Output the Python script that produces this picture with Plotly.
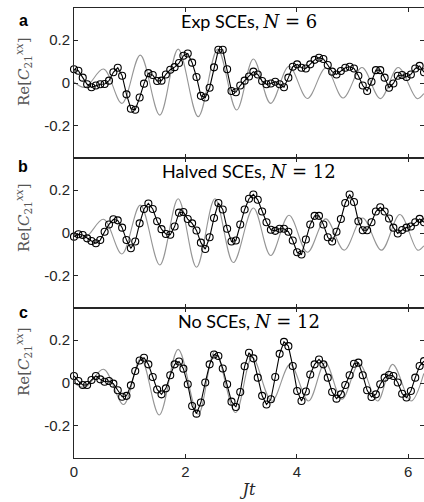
import numpy as np
import plotly.graph_objects as go

# time grid of the measured points (Jt)
t = np.linspace(0, 2 * np.pi, 81)

# panel a: Exp SCEs, N = 6
meas_a = [0.064, 0.057, 0.025, -0.006, -0.02, -0.012, -0.006, -0.005, 0.011, 0.05,
          0.071, 0.034, -0.053, -0.12, -0.125, -0.068, -0.003, 0.046, 0.037, 0.009,
          0.011, 0.04, 0.062, 0.074, 0.093, 0.127, 0.138, 0.095, 0.028, -0.06,
          -0.068, -0.022, 0.073, 0.155, 0.155, 0.064, -0.037, -0.043, -0.012, 0.011,
          0.03, 0.053, 0.04, 0.009, -0.006, -0.002, 0.006, -0.006, -0.02, 0.025,
          0.076, 0.087, 0.071, 0.068, 0.087, 0.108, 0.118, 0.112, 0.084, 0.053,
          0.04, 0.056, 0.071, 0.076, 0.068, 0.034, -0.012, -0.037, 0.006, 0.06,
          0.06, 0.025, -0.022, -0.002, 0.034, 0.037, 0.028, 0.04, 0.068, 0.08,
          0.05]
# panel b: Halved SCEs, N = 12
meas_b = [-0.017, -0.006, -0.009, -0.025, -0.037, -0.048, -0.033, 0.006, 0.04, 0.064,
          0.059, 0.025, -0.033, -0.071, -0.04, 0.045, 0.112, 0.138, 0.112, 0.055,
          0.018, -0.005, -0.008, 0.03, 0.095, 0.098, 0.065, 0.045, 0.012, -0.045,
          -0.075, -0.02, 0.07, 0.14, 0.11, 0.02, -0.04, -0.035, 0.04, 0.11,
          0.16, 0.18, 0.155, 0.1, 0.05, 0.015, 0.01, 0.02, 0.02, 0.006,
          -0.035, -0.09, -0.1, -0.03, 0.04, 0.08, 0.08, 0.04, -0.02, -0.04,
          0.006, 0.065, 0.14, 0.18, 0.145, 0.055, 0.013, 0.013, 0.05, 0.1,
          0.12, 0.1, 0.068, 0.025, -0.002, 0.014, 0.025, 0.03, 0.05, 0.066,
          0.05]
# panel c: No SCEs, N = 12
meas_c = [0.033, 0.009, -0.009, -0.009, 0.014, 0.033, 0.017, 0.006, 0.009, -0.003,
          -0.034, -0.064, -0.06, -0.011, 0.056, 0.105, 0.118, 0.087, 0.028, -0.03,
          -0.053, -0.025, 0.036, 0.087, 0.1, 0.067, -0.006, -0.107, -0.143, -0.091,
          0.002, 0.087, 0.133, 0.126, 0.068, -0.006, -0.087, -0.112, -0.042, 0.078,
          0.141, 0.115, 0.025, -0.06, -0.1, -0.076, 0.028, 0.136, 0.192, 0.172,
          0.079, -0.037, -0.084, -0.04, 0.04, 0.087, 0.11, 0.087, 0.025, -0.042,
          -0.073, -0.053, -0.009, 0.036, 0.09, 0.095, 0.036, -0.034, -0.065, -0.053,
          -0.006, 0.025, 0.037, 0.033, 0.002, -0.05, -0.068, -0.037, 0.025, 0.079,
          0.102]

# theory curves (gray), read at their turning points
theo_a_t = [0, 0.2, 0.53, 0.86, 1.19, 1.54, 1.87, 2.23, 2.58, 2.92, 3.22, 3.53, 3.86,
            4.19, 4.52, 4.83, 5.17, 5.5, 5.82, 6.16, 6.28]
theo_a = [0.005, -0.02, 0.065, -0.095, 0.13, -0.15, 0.158, -0.157, 0.158, -0.126, 0.112,
          -0.095, 0.078, -0.072, 0.07, -0.07, 0.072, -0.073, 0.072, -0.073, -0.05]
theo_b_t = [0, 0.2, 0.53, 0.86, 1.19, 1.54, 1.87, 2.2, 2.53, 2.86, 3.22, 3.53, 3.86,
            4.19, 4.52, 4.85, 5.18, 5.52, 5.85, 6.17, 6.28]
theo_b = [0.005, -0.02, 0.064, -0.098, 0.13, -0.149, 0.16, -0.16, 0.16, -0.138, 0.117,
          -0.105, 0.083, -0.09, 0.066, -0.08, 0.07, -0.08, 0.086, -0.08, -0.06]
theo_c_t = [0, 0.2, 0.53, 0.89, 1.2, 1.53, 1.87, 2.23, 2.53, 2.9, 3.2, 3.55, 3.88,
            4.21, 4.51, 4.81, 5.12, 5.45, 5.72, 6.05, 6.28]
theo_c = [0.0, -0.02, 0.064, -0.1, 0.115, -0.149, 0.157, -0.146, 0.149, -0.138, 0.12,
          -0.085, 0.087, -0.084, 0.095, -0.076, 0.09, -0.084, 0.087, -0.084, 0.045]

titles = ["Exp SCEs, ", "Halved SCEs, ", "No SCEs, "]
n_vals = ["6", "12", "12"]
panel_letters = ["a", "b", "c"]
x_ticks = [0, 2, 4, 6]
y_ticks = [-0.2, 0, 0.2]
y_ticktext = ["-0.2", "0", "0.2"]

W, H = 424, 502
ml, mr, mt, mb = 74, 0, 8, 44
AX = "#262626"
SERIF = "DejaVu Serif"

fig = go.Figure()
meas = [meas_a, meas_b, meas_c]
theo_t = [theo_a_t, theo_b_t, theo_c_t]
theo = [theo_a, theo_b, theo_c]

for i in range(3):
    xa = "x" if i == 0 else f"x{i+1}"
    ya = "y" if i == 0 else f"y{i+1}"
    fig.add_trace(go.Scatter(x=theo_t[i], y=theo[i], mode="lines",
                             line=dict(color="#959595", width=1.1, shape="spline", smoothing=1.0),
                             xaxis=xa, yaxis=ya, showlegend=False, hoverinfo="skip"))
    fig.add_trace(go.Scatter(x=t, y=meas[i], mode="lines+markers",
                             line=dict(color="black", width=1.1),
                             marker=dict(symbol="circle-open", size=7, color="black",
                                         line=dict(width=1.1, color="black")),
                             xaxis=xa, yaxis=ya, showlegend=False, cliponaxis=False))

ph = 1.0 / 3
layout = dict(width=W, height=H, margin=dict(l=ml, r=mr, t=mt, b=mb, autoexpand=False),
              plot_bgcolor="white", paper_bgcolor="white", showlegend=False)
for i in range(3):
    xk = "xaxis" if i == 0 else f"xaxis{i+1}"
    yk = "yaxis" if i == 0 else f"yaxis{i+1}"
    ya = "y" if i == 0 else f"y{i+1}"
    xa = "x" if i == 0 else f"x{i+1}"
    top = 1 - i * ph
    layout[xk] = dict(range=[0, 2 * np.pi], domain=[0, 1], anchor=ya,
                      tickvals=x_ticks, showticklabels=(i == 2),
                      ticks="inside", ticklen=4, tickcolor=AX, tickwidth=1,
                      showline=True, linecolor=AX, linewidth=0.8, mirror="ticks",
                      showgrid=False, zeroline=False, automargin=False,
                      tickfont=dict(family="Liberation Sans", size=15, color=AX))
    if i > 0:
        layout[xk]["matches"] = "x"
    layout[yk] = dict(range=[-0.35, 0.35], domain=[top - ph, top], anchor=xa,
                      tickvals=y_ticks, ticktext=y_ticktext,
                      ticks="inside", ticklen=4, tickcolor=AX, tickwidth=1,
                      showline=True, linecolor=AX, linewidth=0.8, mirror="ticks",
                      showgrid=False, zeroline=False, automargin=False,
                      tickfont=dict(family="Liberation Sans", size=15, color=AX))

layout["xaxis3"]["title"] = dict(text="<i>Jt</i>", font=dict(family=SERIF, size=16, color=AX),
                                 standoff=4)

plot_h = H - mt - mb
annotations = []
letter_y = [21, 167, 312]
label_y = [72, 218, 362]
for i in range(3):
    top_px = mt + i * plot_h / 3
    # panel letter
    annotations.append(dict(text=f"<b>{panel_letters[i]}</b>", xref="paper", yref="paper",
                            x=(23 - ml) / (W - ml - mr), y=1 - (letter_y[i] - mt) / plot_h,
                            xanchor="center", yanchor="middle", showarrow=False,
                            font=dict(family="Liberation Sans", size=16, color="black")))
    # title
    annotations.append(dict(text=titles[i] + f"<span style='font-family:{SERIF}'><i>N</i> = {n_vals[i]}</span>",
                            xref="paper", yref="paper", x=0.5,
                            y=1 - (top_px + 13 - mt) / plot_h,
                            xanchor="center", yanchor="middle", showarrow=False,
                            font=dict(family="Lato", size=18, color="black")))
    # y label
    annotations.append(dict(text="Re[<i>C</i><sub>21</sub><sup><i>xx</i></sup>]",
                            xref="paper", yref="paper", x=(23 - ml) / (W - ml - mr),
                            y=1 - (label_y[i] - mt) / plot_h,
                            xanchor="center", yanchor="middle", textangle=-90, showarrow=False,
                            font=dict(family=SERIF, size=15, color="#555555")))
layout["annotations"] = annotations

fig.update_layout(**layout)
fig.write_html("out.html", config={"displayModeBar": False},
               post_script="document.body.style.margin='0px';")
